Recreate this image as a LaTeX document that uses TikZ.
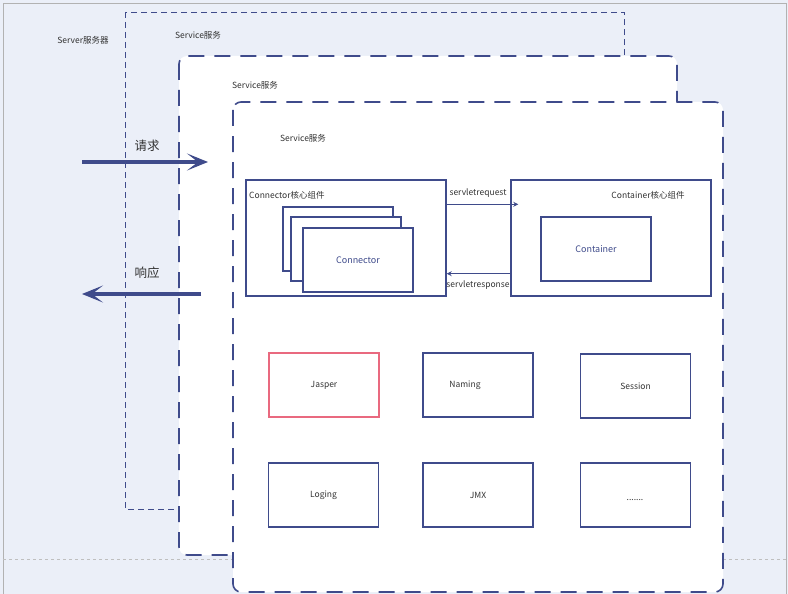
\documentclass[tikz,border=0pt]{standalone}
\usepackage{fontspec}
\setmainfont{Noto Sans CJK SC}
\usetikzlibrary{calc,arrows.meta}
\definecolor{navy}{HTML}{3F4B8B}
\definecolor{bgblue}{HTML}{EBEFF8}
\definecolor{pinkred}{HTML}{E9697F}
\definecolor{txtgray}{HTML}{333333}

\begin{document}
\begin{tikzpicture}[x=1pt,y=-1pt,
  lbl/.style={text=txtgray,font=\fontsize{8.5}{10}\selectfont,inner sep=0pt},
  biglbl/.style={text=txtgray,font=\fontsize{12.5}{14}\selectfont,inner sep=0pt},
  svc/.style={draw=navy,fill=white,line width=1.6pt,dash pattern=on 16pt off 10pt,rounded corners=8pt},
  grp/.style={draw=navy,line width=1.4pt,inner sep=0pt,minimum width=200pt,minimum height=116pt},
  comp/.style={draw=navy,fill=white,line width=1.5pt,inner sep=0pt,minimum width=110pt,minimum height=64pt,text=txtgray,font=\fontsize{8.5}{10}\selectfont},
  flow/.style={navy,line width=0.8pt,-{Stealth[length=5pt,width=5pt]}},
  bigflow/.style={navy,line width=4pt,-{Stealth[length=21pt,width=17pt,inset=11pt]}}]
\useasboundingbox (0,0) rectangle (788,594);
% background
\fill[bgblue] (0,0) rectangle (788,594);
\draw[gray!60] (3,594) -- (3,3) -- (786,3) -- (786,594);
\draw[gray!50,dashed] (3,559) -- (786,559);

% Server frame
\draw[navy,line width=0.9pt,dash pattern=on 6pt off 4pt] (125,12) rectangle (624,509);
\node[lbl] (server) at (83,40) {Server服务器};
\node[lbl] (svc1) at (198,35) {Service服务};

% the two Service boxes
\draw[svc] (179,56) rectangle (677,555);
\node[lbl] (svc2) at (255,85) {Service服务};
\draw[svc] (233,102) rectangle (723,592);
\node[lbl] (svc3) at (303,138) {Service服务};

% request / response
\coordinate (reqfrom) at (82,162);
\coordinate (reqto) at (208,162);
\draw[bigflow] (reqfrom) -- (reqto);
\node[biglbl] (req) at (147,146) {请求};
\coordinate (respfrom) at (201,294);
\coordinate (respto) at (82,294);
\draw[bigflow] (respfrom) -- (respto);
\node[biglbl] (resp) at (147,273) {响应};

% Connector group
\node[grp] (conngrp) at (346,238) {};
\node[lbl,anchor=west] (conntitle) at (249,195) {Connector核心组件};
\node[comp] (conn1) at (338,239) {};
\node[comp] (conn2) at (346,249) {};
\node[comp,text=navy,font=\fontsize{9}{10}\selectfont] (conn3) at (358,260) {Connector};

% Container group
\node[grp] (ctgrp) at (611,238) {};
\node[lbl] (cttitle) at (648,195) {Container核心组件};
\node[comp,text=navy,font=\fontsize{9}{10}\selectfont] (ct) at (596,249) {Container};

\draw[flow] ($(conngrp.north east)+(0,25)$) -- ($(ctgrp.north west)+(8,25)$);
\node[lbl] (sreq) at (478,193) {servletrequest};
\draw[flow] ($(ctgrp.south west)+(0,-23)$) -- ($(conngrp.south east)+(0,-23)$);
\node[lbl] (sresp) at (478,285) {servletresponse};

% other components
\node[comp,draw=pinkred] (jasper) at (324,385) {Jasper};
\node[comp] (naming) at (478,385) {};
\node[lbl] (naminglbl) at (465,385) {Naming};
\node[comp] (session) at (635.5,386) {Session};
\node[comp] (loging) at (323.5,495) {Loging};
\node[comp] (jmx) at (478,495) {JMX};
\node[comp] (more) at (635.5,495) {};
\node[lbl] (morelbl) at (635,500) {.......};
\end{tikzpicture}
\end{document}
